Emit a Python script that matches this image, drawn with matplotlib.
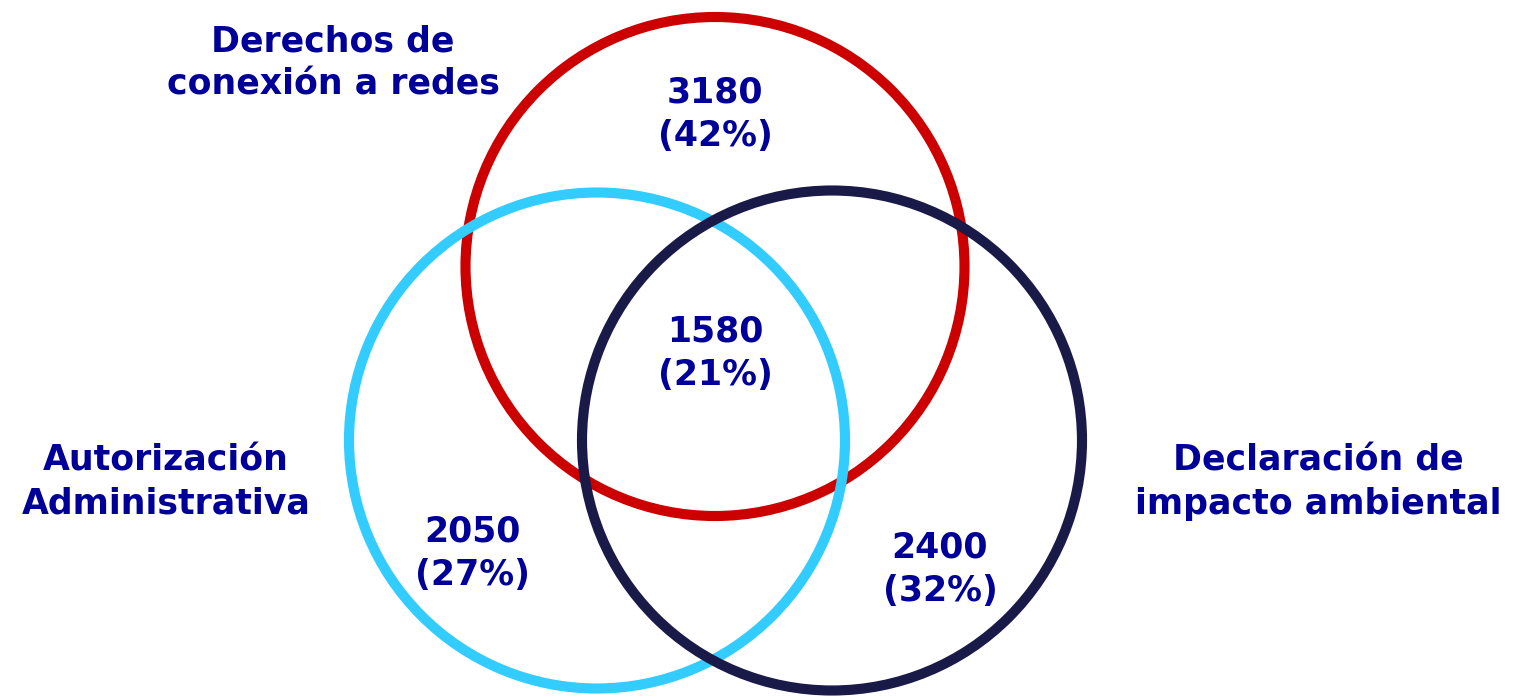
import matplotlib
matplotlib.use("Agg")
import matplotlib.pyplot as plt
from matplotlib.patches import Circle

# ---- data ----
set_names = ["Derechos de\nconexión a redes", "Autorización\nAdministrativa", "Declaración de\nimpacto ambiental"]
region_names = ["Solo Derechos de conexión", "Intersección", "Solo Autorización", "Solo Declaración"]
region_counts = [3180, 1580, 2050, 2400]
region_pcts = [42, 21, 27, 32]

# ---- layout (pixel coordinates) ----
W, H = 1515, 697
circle_centers = [(715, 266.5), (597, 440.5), (832, 440.5)]
circle_radii = [249.5, 248, 250]
circle_colors = ["#CC0000", "#33CCFF", "#1A1A48"]
set_label_pos = [(333, 63), (166, 482), (1318, 482)]
region_pos = [(715, 114), (715, 353), (472, 553), (940, 569)]
text_color = "#000099"
fs = 25

fig = plt.figure(figsize=(W / 100, H / 100), dpi=100)
ax = fig.add_axes([0, 0, 1, 1])
ax.set_xlim(0, W)
ax.set_ylim(H, 0)
ax.set_aspect("equal")
ax.axis("off")

for (cx, cy), r, c, z in zip(circle_centers, circle_radii, circle_colors, [1, 2, 3]):
    ax.add_patch(Circle((cx, cy), r, fill=False, edgecolor=c, linewidth=7.3, zorder=z))

for name, (x, y) in zip(set_names, set_label_pos):
    ax.text(x, y, name, ha="center", va="center", fontsize=fs, fontweight="bold",
            color=text_color, linespacing=1.36, family="DejaVu Sans", zorder=5)

for cnt, pct, (x, y) in zip(region_counts, region_pcts, region_pos):
    ax.text(x, y, f"{cnt}\n({pct}%)", ha="center", va="center", fontsize=fs, fontweight="bold",
            color=text_color, linespacing=1.36, family="DejaVu Sans", zorder=5)

fig.savefig("out.png", dpi=100)
